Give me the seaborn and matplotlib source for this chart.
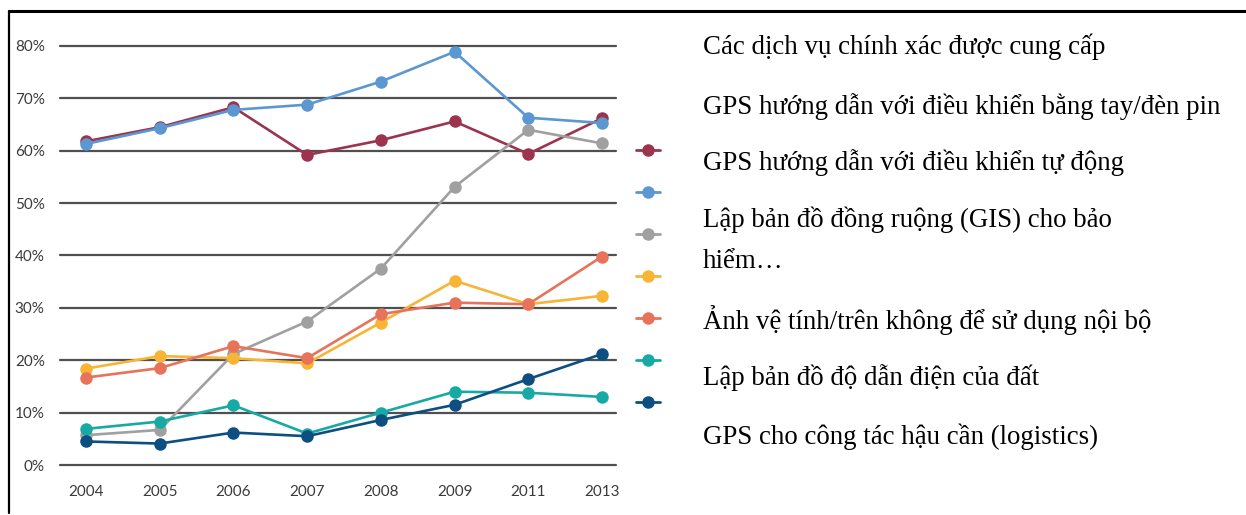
import matplotlib
matplotlib.use("Agg")
import matplotlib.pyplot as plt
from matplotlib.lines import Line2D
import seaborn as sns
import pandas as pd

years = ["2004", "2005", "2006", "2007", "2008", "2009", "2011", "2013"]

series_names = [
    "Các dịch vụ chính xác được cung cấp",
    "GPS hướng dẫn với điều khiển bằng tay/đèn pin",
    "GPS hướng dẫn với điều khiển tự động",
    "Lập bản đồ đồng ruộng (GIS) cho bảo\nhiểm…",
    "Ảnh vệ tính/trên không để sử dụng nội bộ",
    "Lập bản đồ độ dẫn điện của đất",
    "GPS cho công tác hậu cần (logistics)",
]

precision_services = [61.8, 64.5, 68.3, 59.2, 62.0, 65.6, 59.4, 66.2]
gps_manual = [61.3, 64.3, 67.8, 68.8, 73.2, 78.9, 66.3, 65.3]
gps_auto = [5.7, 6.7, 21.2, 27.4, 37.5, 53.1, 64.0, 61.4]
field_mapping = [18.4, 20.8, 20.4, 19.4, 27.2, 35.2, 30.7, 32.3]
imagery = [16.7, 18.5, 22.7, 20.4, 28.8, 31.0, 30.7, 39.8]
soil_conductivity = [6.9, 8.3, 11.4, 6.0, 10.0, 14.0, 13.8, 13.0]
logistics = [4.5, 4.1, 6.2, 5.5, 8.6, 11.5, 16.4, 21.2]

series_values = [precision_services, gps_manual, gps_auto, field_mapping,
                 imagery, soil_conductivity, logistics]

colors = ["#9c3450", "#5b97d0", "#a0a0a0", "#f7b435", "#e6735a", "#17aaa5", "#0c4f80"]

yticks = [0, 10, 20, 30, 40, 50, 60, 70, 80]
ytick_labels = [f"{v}%" for v in yticks]

rows = []
for name, vals in zip(series_names, series_values):
    for yr, v in zip(years, vals):
        rows.append({"year": yr, "value": v / 100.0, "series": name})
df = pd.DataFrame(rows)

sns.set_theme(style="white")
plt.rcParams["font.family"] = ["Lato", "DejaVu Sans"]

W, H = 1246, 515
fig = plt.figure(figsize=(W / 100, H / 100), dpi=100)
ax = fig.add_axes([60 / W, 1 - 475.5 / H, (616 - 60) / W, 440 / H])

# horizontal grid at each 10% step
for t in yticks:
    ax.axhline(t / 100.0, color="#505050", lw=1.6, zorder=0)

sns.lineplot(data=df, x="year", y="value", hue="series", palette=colors,
             hue_order=series_names, sort=False, marker="o", markersize=9,
             markeredgewidth=0, linewidth=1.9, ax=ax, legend=False)
for ln in ax.lines:
    ln.set_clip_on(False)

ax.set_xlim(-0.353, 7.19)
ax.set_ylim(-0.02, 0.82)
ax.set_yticks([t / 100.0 for t in yticks])
ax.set_yticklabels(ytick_labels)
ax.set_xticks(range(len(years)))
ax.set_xticklabels(years)
ax.tick_params(axis="both", length=0, labelsize=11, labelcolor="#3b3b3b")
ax.tick_params(axis="y", pad=11)
ax.tick_params(axis="x", pad=7)
ax.set_xlabel("")
ax.set_ylabel("")
for s in ax.spines.values():
    s.set_visible(False)

# marker key column
handles = [Line2D([0], [0], color=c, lw=2.0, marker="o", markersize=9,
                  markeredgewidth=0) for c in colors]
fig.legend(handles=handles, labels=[""] * len(handles), loc="upper left",
           bbox_to_anchor=(636 / W, 1 - 145 / H), frameon=False,
           handlelength=1.7, handletextpad=0.0, labelspacing=2.16, fontsize=10,
           borderpad=0, borderaxespad=0)

# series names
label_y = [47, 107, 163, 240, 320, 378, 437]
for name, y in zip(series_names, label_y):
    fig.text(703 / W, 1 - y / H, name, ha="left", va="center",
             family=["Liberation Serif", "DejaVu Serif"], fontsize=19.4,
             color="#000000", linespacing=1.85)

# outer frame (top and left edges)
fig.add_artist(Line2D([9 / W, 1.0], [1 - 11 / H, 1 - 11 / H], color="black", lw=2.2,
                      transform=fig.transFigure))
fig.add_artist(Line2D([9 / W, 9 / W], [1 - 11 / H, 1 - 513 / H], color="black", lw=1.6,
                      transform=fig.transFigure))

fig.savefig("out.png", dpi=100)
